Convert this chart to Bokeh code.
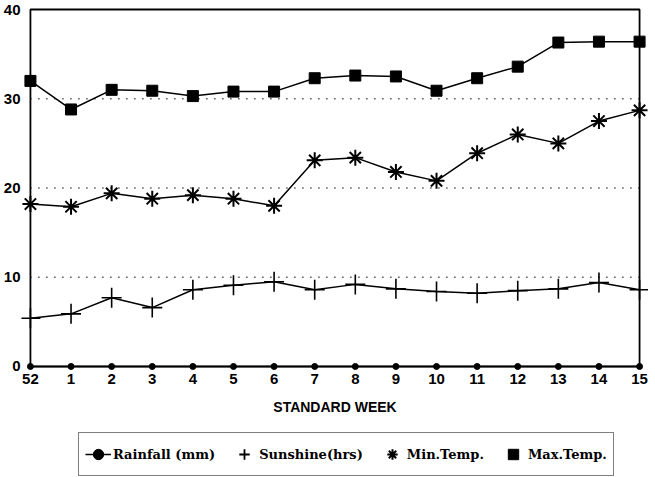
from bokeh.plotting import figure
from bokeh.layouts import column
from bokeh.models import Range1d, FixedTicker, Legend, LegendItem
from bokeh.embed import file_html
from bokeh.resources import INLINE

weeks = ["52", "1", "2", "3", "4", "5", "6", "7", "8", "9", "10", "11", "12", "13", "14", "15"]
rainfall = [0, 0, 0, 0, 0, 0, 0, 0, 0, 0, 0, 0, 0, 0, 0, 0]
sunshine = [5.4, 5.9, 7.7, 6.6, 8.6, 9.1, 9.5, 8.6, 9.2, 8.7, 8.4, 8.2, 8.5, 8.7, 9.4, 8.6]
min_temp = [18.2, 17.9, 19.4, 18.8, 19.2, 18.8, 18.0, 23.1, 23.4, 21.8, 20.8, 23.9, 26.0, 25.0, 27.5, 28.7]
max_temp = [32.0, 28.8, 31.0, 30.9, 30.3, 30.8, 30.8, 32.3, 32.6, 32.5, 30.9, 32.3, 33.6, 36.3, 36.4, 36.4]
y_ticks = [0, 10, 20, 30, 40]
grid_levels = [10, 20, 30]
series_labels = ["Rainfall (mm)", "Sunshine(hrs)", "Min.Temp.", "Max.Temp."]

x = list(range(len(weeks)))
XPAD, YPAD = 0.22, 0.45
NAN = float("nan")

p = figure(frame_width=627, frame_height=365, output_backend="svg", toolbar_location=None,
           x_range=Range1d(x[0] - XPAD, x[-1] + XPAD),
           y_range=Range1d(y_ticks[0] - YPAD, y_ticks[-1] + YPAD),
           min_border_left=0, min_border_right=0, min_border_top=5, min_border_bottom=62)

p.background_fill_color = "white"
p.border_fill_color = "white"
p.outline_line_color = None
p.xgrid.visible = False
p.ygrid.visible = False

for ax in (p.xaxis, p.yaxis):
    ax.axis_line_color = None
    ax.major_tick_line_color = None
    ax.minor_tick_line_color = None
    ax.major_label_text_font = "Liberation Sans"
    ax.major_label_text_font_style = "bold"
    ax.major_label_text_font_size = "15px"
    ax.major_label_text_color = "black"

p.yaxis.ticker = FixedTicker(ticks=y_ticks)
p.yaxis.major_label_standoff = -5
p.xaxis.ticker = FixedTicker(ticks=x)
p.xaxis.major_label_overrides = {i: w for i, w in enumerate(weeks)}
p.xaxis.major_label_standoff = -3
p.xaxis.axis_label = "STANDARD WEEK"
p.xaxis.axis_label_text_font = "Liberation Sans"
p.xaxis.axis_label_text_font_style = "bold"
p.xaxis.axis_label_text_font_size = "14px"
p.xaxis.axis_label_text_color = "black"
p.xaxis.axis_label_standoff = 12

# dotted reference lines and the plot box
p.segment(x0=[x[0]] * len(grid_levels), x1=[x[-1]] * len(grid_levels), y0=grid_levels, y1=grid_levels,
          line_color="black", line_width=1.5, line_dash="1 7")
p.quad(left=[x[0]], right=[x[-1]], bottom=[y_ticks[0]], top=[y_ticks[-1]],
       fill_color=None, line_color="black", line_width=1.8)

STYLES = [
    dict(marker="circle", size=6, line_width=1, fill_color="black"),
    dict(marker="cross", size=20, line_width=1.6, fill_color=None),
    dict(marker="asterisk", size=16, line_width=2, fill_color=None),
    dict(marker="square", size=11, line_width=1, fill_color="black"),
]
for ys, st in zip([rainfall, sunshine, min_temp, max_temp], STYLES):
    p.line(x, ys, line_color="black", line_width=1.5)
    p.scatter(x, ys, line_color="black", **st)

# legend in its own strip under the chart
lf = figure(width=645, height=45, output_backend="svg", toolbar_location=None,
            x_range=Range1d(0, 1), y_range=Range1d(0, 1),
            x_axis_type=None, y_axis_type=None,
            min_border_left=0, min_border_right=0, min_border_top=0, min_border_bottom=0)
lf.outline_line_color = None
lf.xgrid.visible = False
lf.ygrid.visible = False
lf.background_fill_color = "white"
lf.border_fill_color = "white"

LEG_STYLES = [
    dict(marker="circle", size=6, line_width=1, fill_color="black"),
    dict(marker="cross", size=16, line_width=1.8, fill_color=None),
    dict(marker="asterisk", size=14, line_width=2, fill_color=None),
    dict(marker="square", size=11, line_width=1, fill_color="black"),
]
items = []
for i, (lab, st) in enumerate(zip(series_labels, LEG_STYLES)):
    rs = []
    if i == 0:
        rs.append(lf.line([NAN], [NAN], line_color="black", line_width=1.5))
    rs.append(lf.scatter([NAN], [NAN], line_color="black", **st))
    items.append(LegendItem(label=lab, renderers=rs))

legend = Legend(items=items, orientation="horizontal", location=(57, 1),
                border_line_color="black", border_line_width=1.5,
                background_fill_color="white",
                label_text_font="DejaVu Serif", label_text_font_style="bold",
                label_text_font_size="13px", label_text_color="black",
                glyph_width=26, glyph_height=30,
                spacing=16, padding=6, margin=0, label_standoff=2)
lf.add_layout(legend, "center")

layout = column(p, lf, spacing=0)
open("out.html", "w").write(file_html(layout, INLINE))
